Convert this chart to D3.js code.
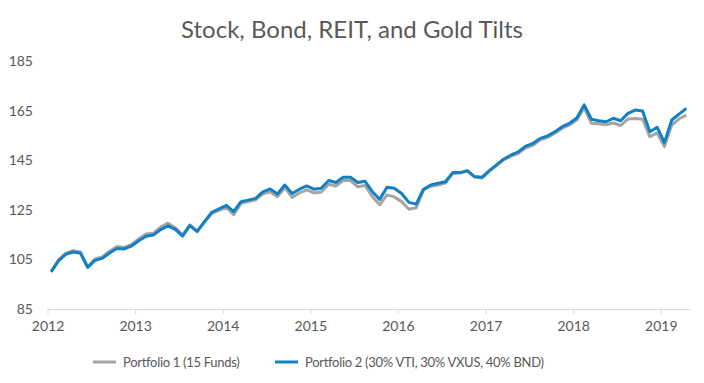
<!DOCTYPE html>
<html>
<head>
<meta charset="utf-8">
<script src="https://cdn.jsdelivr.net/npm/d3@7"></script>
<style>
  body { margin: 0; background: #fff; }
  text { font-family: Lato, "Open Sans", sans-serif; fill: #595959; }
</style>
</head>
<body>
<div id="chart"></div>
<script>
const title = "Stock, Bond, REIT, and Gold Tilts";
const years = [2012, 2013, 2014, 2015, 2016, 2017, 2018, 2019];
const yTicks = [85, 105, 125, 145, 165, 185];
const seriesNames = ["Portfolio 1 (15 Funds)", "Portfolio 2 (30% VTI, 30% VXUS, 40% BND)"];

// monthly values, Jan 2012 .. Apr 2019
const portfolio1 = [
  100, 104.8, 107.5, 108.5, 108.0, 102.0, 105.2, 106.0, 108.3, 110.2, 109.8, 111.0,
  113.2, 115.2, 115.6, 118.0, 119.6, 117.8, 114.9, 118.9, 116.5, 120.0, 123.6, 124.8,
  126.0, 123.0, 127.6, 128.3, 129.0, 131.4, 132.3, 130.3, 134.0, 130.0, 131.8, 133.0,
  131.8, 132.2, 135.3, 134.6, 136.8, 136.8, 134.3, 134.8, 130.3, 127.0, 131.0, 130.2,
  128.3, 125.2, 125.8, 133.0, 134.5, 135.0, 135.8, 139.6, 139.8, 140.6, 138.2, 137.8,
  140.5, 142.8, 145.2, 146.6, 147.8, 150.0, 151.0, 153.2, 154.2, 155.9, 157.9, 159.2,
  161.2, 166.2, 159.9, 159.7, 159.3, 160.0, 159.0, 161.6, 161.8, 161.5, 154.5, 156.0,
  150.5, 159.2, 161.7, 163.2
];
const portfolio2 = [
  100, 104.4, 107.0, 108.0, 107.6, 101.8, 104.6, 105.4, 107.6, 109.4, 109.2, 110.4,
  112.5, 114.3, 114.8, 117.0, 118.5, 117.1, 114.4, 118.6, 116.2, 120.2, 124.0, 125.4,
  126.8, 124.3, 128.3, 128.9, 129.6, 132.2, 133.4, 131.4, 135.0, 131.6, 133.3, 134.6,
  133.3, 133.7, 136.8, 136.0, 138.1, 138.1, 136.0, 136.5, 132.3, 129.2, 134.1, 133.7,
  131.6, 128.0, 127.3, 133.3, 135.0, 135.7, 136.3, 140.0, 140.0, 140.8, 138.4, 138.1,
  140.8, 143.1, 145.5, 147.1, 148.4, 150.7, 151.8, 153.8, 154.8, 156.5, 158.5, 159.9,
  162.0, 167.3, 161.5, 160.9, 160.5, 161.9, 160.9, 163.9, 165.2, 164.8, 156.5, 158.3,
  152.1, 161.2, 163.6, 165.9
];

const width = 704, height = 383;
const colors = ["#a5a5a5", "#1380c4"];

const svg = d3.select("#chart").append("svg")
  .attr("width", width)
  .attr("height", height);

const x = d3.scaleLinear()
  .domain([0, portfolio2.length])
  .range([47.5, 690]);

const y = d3.scaleLinear()
  .domain([85, 185])
  .range([309, 61]);

svg.append("text")
  .attr("x", 352)
  .attr("y", 38)
  .attr("text-anchor", "middle")
  .style("font-size", "24px")
  .text(title);

// y labels, no axis line
svg.selectAll(".ylab")
  .data(yTicks)
  .enter().append("text")
  .attr("class", "ylab")
  .attr("x", 33)
  .attr("y", d => y(d))
  .attr("dy", "0.35em")
  .attr("text-anchor", "end")
  .style("font-size", "14px")
  .text(d => d);

// x axis
const xAxis = d3.axisBottom(x)
  .tickValues(years.map((d, i) => i * 12))
  .tickFormat((d, i) => years[i])
  .tickSize(5)
  .tickSizeOuter(0);

const gx = svg.append("g")
  .attr("transform", `translate(0,${y(85)})`)
  .call(xAxis);
gx.select(".domain").attr("stroke", "#d9d9d9");
gx.selectAll(".tick line").attr("stroke", "#d9d9d9");
gx.selectAll(".tick text")
  .attr("dy", "1.0em")
  .style("font-size", "14px")
  .style("font-family", "Lato, 'Open Sans', sans-serif")
  .attr("fill", "#595959");

const line = d3.line()
  .x((d, i) => x(i + 0.5))
  .y(d => y(d));

[portfolio1, portfolio2].forEach((s, k) => {
  svg.append("path")
    .datum(s)
    .attr("fill", "none")
    .attr("stroke", colors[k])
    .attr("stroke-width", 3)
    .attr("stroke-linejoin", "round")
    .attr("d", line);
});

// legend
const legendX = [93, 275];
const legend = svg.selectAll(".legend")
  .data(seriesNames)
  .enter().append("g")
  .attr("class", "legend")
  .attr("transform", (d, i) => `translate(${legendX[i]},362)`);

legend.append("line")
  .attr("x1", 0).attr("x2", 23)
  .attr("stroke", (d, i) => colors[i])
  .attr("stroke-width", 3);

legend.append("text")
  .attr("x", 30)
  .attr("dy", "0.35em")
  .style("font-size", "13px")
  .style("letter-spacing", "-0.3px")
  .text(d => d);
</script>
</body>
</html>
